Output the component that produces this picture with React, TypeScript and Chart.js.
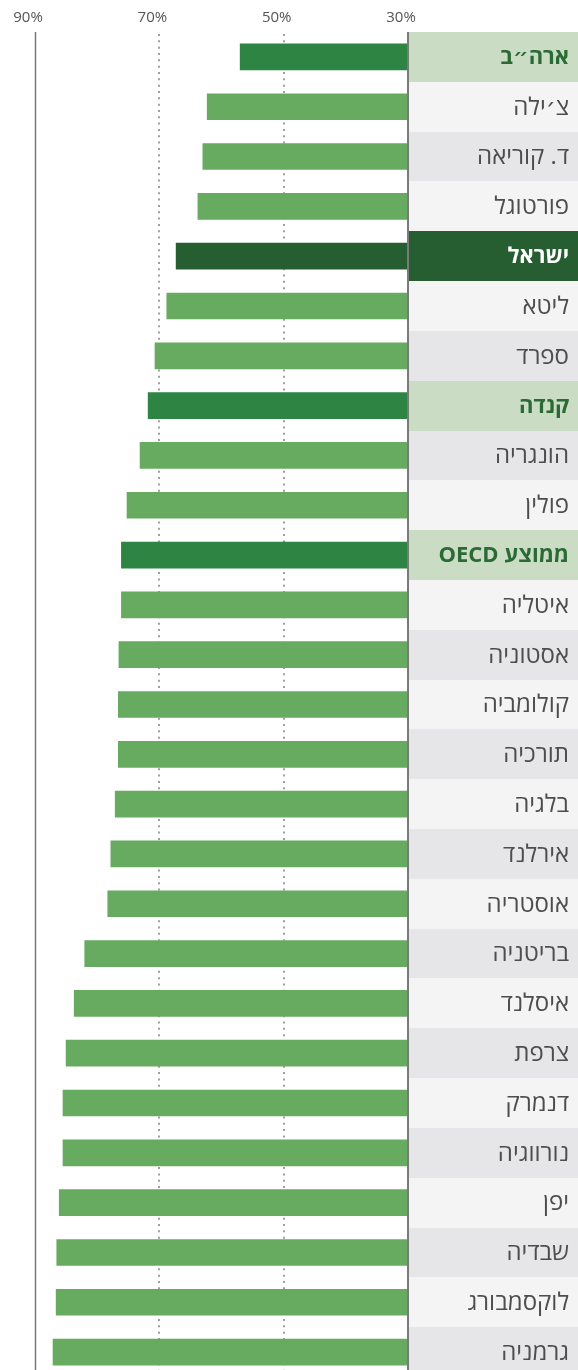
import React, { useEffect, useRef } from 'react';
import { Chart, registerables } from 'chart.js';

Chart.register(...registerables);

// ---- data ----
const countries: string[] = [
  'ארה״ב',
  'צ׳ילה',
  'ד. קוריאה',
  'פורטוגל',
  'ישראל',
  'ליטא',
  'ספרד',
  'קנדה',
  'הונגריה',
  'פולין',
  'ממוצע OECD',
  'איטליה',
  'אסטוניה',
  'קולומביה',
  'תורכיה',
  'בלגיה',
  'אירלנד',
  'אוסטריה',
  'בריטניה',
  'איסלנד',
  'צרפת',
  'דנמרק',
  'נורווגיה',
  'יפן',
  'שבדיה',
  'לוקסמבורג',
  'גרמניה',
];

const values: number[] = [
  57.0, 62.3, 63.0, 63.8, 67.3, 68.8, 70.7, 71.8, 73.1, 75.2, 76.1, 76.1, 76.5, 76.6,
  76.6, 77.1, 77.8, 78.3, 82.0, 83.7, 85.0, 85.5, 85.5, 86.1, 86.5, 86.6, 87.1,
];

const xTickValues: number[] = [30, 50, 70, 90];

const highlightedRows: string[] = ['ארה״ב', 'קנדה', 'ממוצע OECD'];
const focusRow = 'ישראל';

// ---- styles ----
const FONT = "'Open Sans', 'DejaVu Sans', sans-serif";
const BAR = '#67ab61';
const BAR_HL = '#2e8443';
const BAR_FOCUS = '#265e31';
const ROW_HL = '#cadcc4';
const ROW_LIGHT = '#f4f4f4';
const ROW_GRAY = '#e6e6e8';
const TEXT = '#4d4d4d';
const TEXT_HL = '#2b6a34';
const AXIS = '#7a7a7a';
const DOT = '#808080';

function kindOf(label: string): 'hl' | 'focus' | 'normal' {
  if (label === focusRow) return 'focus';
  if (highlightedRows.includes(label)) return 'hl';
  return 'normal';
}

const rowsPlugin = {
  id: 'rowsPlugin',
  beforeDatasetsDraw(chart: any) {
    const { ctx, chartArea, scales } = chart;
    const x = scales.x;
    const y = scales.y;
    const labels: string[] = chart.data.labels;
    const n = labels.length;
    const pitch = (chartArea.bottom - chartArea.top) / n;
    ctx.save();
    labels.forEach((lab, i) => {
      const cy = y.getPixelForValue(i);
      const top = Math.round(cy - pitch / 2);
      const bottom = Math.round(cy + pitch / 2);
      const k = kindOf(lab);
      ctx.fillStyle = k === 'focus' ? BAR_FOCUS : k === 'hl' ? ROW_HL : i % 2 === 1 ? ROW_LIGHT : ROW_GRAY;
      ctx.fillRect(chartArea.right + 1, top, chart.width - chartArea.right - 1, bottom - top);
    });
    xTickValues.forEach((v) => {
      const px = x.getPixelForValue(v);
      if (v === x.max) {
        ctx.strokeStyle = AXIS;
        ctx.lineWidth = 1.5;
        ctx.setLineDash([]);
        ctx.beginPath();
        ctx.moveTo(px + 0.5, chartArea.top);
        ctx.lineTo(px + 0.5, chartArea.bottom);
        ctx.stroke();
      } else if (v !== x.min) {
        ctx.strokeStyle = DOT;
        ctx.lineWidth = 1.5;
        ctx.setLineDash([2, 4.33]);
        ctx.beginPath();
        ctx.moveTo(Math.round(px), chartArea.top + 2);
        ctx.lineTo(Math.round(px), chartArea.bottom);
        ctx.stroke();
      }
    });
    ctx.restore();
  },
  afterDatasetsDraw(chart: any) {
    const { ctx, chartArea, scales } = chart;
    const x = scales.x;
    const y = scales.y;
    const labels: string[] = chart.data.labels;
    ctx.save();
    const px = x.getPixelForValue(x.min);
    ctx.strokeStyle = AXIS;
    ctx.lineWidth = 2;
    ctx.setLineDash([]);
    ctx.beginPath();
    ctx.moveTo(Math.round(px), chartArea.top);
    ctx.lineTo(Math.round(px), chartArea.bottom);
    ctx.stroke();
    ctx.direction = 'rtl';
    ctx.textAlign = 'right';
    ctx.textBaseline = 'middle';
    labels.forEach((lab, i) => {
      const cy = y.getPixelForValue(i);
      const k = kindOf(lab);
      ctx.font = (k === 'normal' ? '24px ' : 'bold 22px ') + FONT;
      ctx.fillStyle = k === 'focus' ? '#ffffff' : k === 'hl' ? TEXT_HL : TEXT;
      ctx.fillText(lab, chart.width - 9, cy + 1);
    });
    ctx.restore();
  },
};

export default function App() {
  const ref = useRef<HTMLCanvasElement | null>(null);
  useEffect(() => {
    if (!ref.current) return;
    const chart = new Chart(ref.current, {
      type: 'bar',
      data: {
        labels: countries,
        datasets: [
          {
            data: values,
            backgroundColor: countries.map((c) => {
              const k = kindOf(c);
              return k === 'focus' ? BAR_FOCUS : k === 'hl' ? BAR_HL : BAR;
            }),
            borderWidth: 0,
            barThickness: 26,
          },
        ],
      },
      plugins: [rowsPlugin],
      options: {
        indexAxis: 'y',
        animation: false,
        responsive: false,
        layout: { padding: { left: 35, right: 170, top: 0, bottom: 0 } },
        plugins: { legend: { display: false }, tooltip: { enabled: false } },
        scales: {
          x: {
            type: 'linear',
            position: 'top',
            reverse: true,
            min: 30,
            max: 90,
            afterBuildTicks: (scale: any) => {
              scale.ticks = xTickValues.map((v) => ({ value: v }));
            },
            afterFit: (scale: any) => {
              scale.height = 32;
            },
            grid: { display: false },
            border: { display: false },
            ticks: {
              callback: (v: any) => v + '%',
              font: { family: FONT, size: 15, lineHeight: 0.9 },
              color: '#555555',
              padding: 0,
              labelOffset: -7,
              autoSkip: false,
              maxRotation: 0,
            },
          },
          y: {
            display: false,
          },
        },
      },
    });
    return () => chart.destroy();
  }, []);
  return (
    <div style={{ position: 'absolute', left: 0, top: 0, width: 578, height: 1377 }}>
      <canvas ref={ref} width={578} height={1377} style={{ display: 'block' }} />
    </div>
  );
}
